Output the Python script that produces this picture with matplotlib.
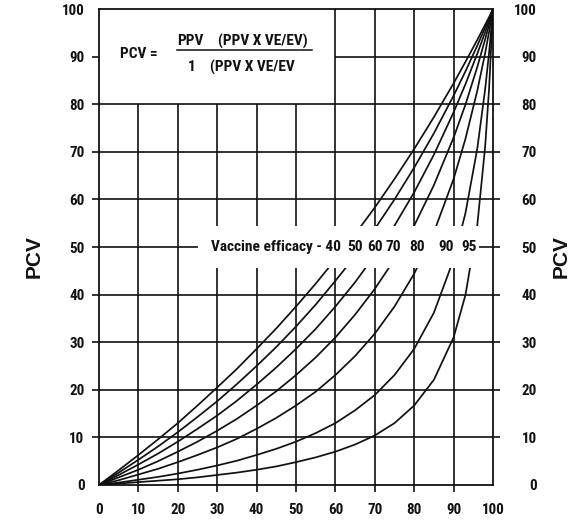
from pathlib import Path

import matplotlib

matplotlib.use("Agg")
import matplotlib.pyplot as plt
from matplotlib import font_manager
from matplotlib.font_manager import FontProperties
from matplotlib.patches import Rectangle

# PPV (%) along the bottom, PCV (%)
ppv = [0, 5, 10, 15, 20, 25, 30, 35, 40, 45, 50, 55, 60, 65, 70, 75, 80, 85, 90, 93, 96, 98, 99, 100]
pcv_ve40 = [0, 3.1, 6.3, 9.6, 13.0, 16.7, 20.5, 24.4, 28.6, 32.9, 37.5, 42.3, 47.4, 52.7, 58.3, 64.3, 70.6, 77.3, 84.4, 88.9, 93.5, 96.7, 98.3, 100]
pcv_ve50 = [0, 2.6, 5.3, 8.1, 11.1, 14.3, 17.6, 21.2, 25.0, 29.0, 33.3, 37.9, 42.9, 48.1, 53.8, 60.0, 66.7, 73.9, 81.8, 86.9, 92.3, 96.1, 98.0, 100]
pcv_ve60 = [0, 2.1, 4.3, 6.6, 9.1, 11.8, 14.6, 17.7, 21.1, 24.7, 28.6, 32.8, 37.5, 42.6, 48.3, 54.5, 61.5, 69.4, 78.3, 84.2, 90.6, 95.1, 97.5, 100]
pcv_ve70 = [0, 1.6, 3.2, 5.0, 7.0, 9.1, 11.4, 13.9, 16.7, 19.7, 23.1, 26.8, 31.0, 35.8, 41.2, 47.4, 54.5, 63.0, 73.0, 79.9, 87.8, 93.6, 96.7, 100]
pcv_ve80 = [0, 1.0, 2.2, 3.4, 4.8, 6.3, 7.9, 9.7, 11.8, 14.1, 16.7, 19.6, 23.1, 27.1, 31.8, 37.5, 44.4, 53.1, 64.3, 72.7, 82.8, 90.7, 95.2, 100]
pcv_ve90 = [0, 0.5, 1.1, 1.7, 2.4, 3.2, 4.1, 5.1, 6.3, 7.6, 9.1, 10.9, 13.0, 15.7, 18.9, 23.1, 28.6, 36.2, 47.4, 57.1, 70.6, 83.1, 90.8, 100]
pcv_ve95 = [0, 0.3, 0.6, 0.9, 1.2, 1.6, 2.1, 2.6, 3.2, 3.9, 4.8, 5.8, 7.0, 8.5, 10.4, 13.0, 16.7, 22.1, 31.0, 39.9, 54.5, 71.0, 83.2, 100]
efficacy_labels = ["40", "50", "60", "70", "80", "90", "95"]
tick_values = [0, 10, 20, 30, 40, 50, 60, 70, 80, 90, 100]

curves = [pcv_ve40, pcv_ve50, pcv_ve60, pcv_ve70, pcv_ve80, pcv_ve90, pcv_ve95]
label_x = [60.4, 65.0, 70.1, 74.6, 80.7, 88.1, 93.9]


def _narrow_font():
    # the scan uses an Arial Narrow style face; take the closest condensed bold file
    wanted = [
        ("liberationsansnarrow-bold.ttf", 1.0),
        ("robotocondensed-bold.ttf", 0.9),
        ("dejavusanscondensed-bold.ttf", 0.78),
    ]
    files = {Path(f.fname).name.lower(): f.fname for f in font_manager.fontManager.ttflist}
    for name, factor in wanted:
        if name in files:
            return files[name], factor
    for key, fname in files.items():
        if ("narrow" in key or "condensed" in key) and "bold" in key and "italic" not in key and "oblique" not in key:
            return fname, 0.85
    return None, 0.7


narrow_file, size_factor = _narrow_font()


def narrow(size):
    if narrow_file:
        return FontProperties(fname=narrow_file, size=size * size_factor)
    return FontProperties(family="DejaVu Sans", weight="bold", size=size * size_factor)


ink = "#111111"

fig = plt.figure(figsize=(5.71, 5.23), dpi=100)
ax = fig.add_axes([0.1734, 0.0727, 0.690, 0.910])
ax.set_xlim(0, 100)
ax.set_ylim(0, 100)

# grid: no lines inside the formula box (x < 60, y > 80)
grid_x = tick_values[1:-1]
ax.vlines(grid_x, 0, [80 if x < 60 else 100 for x in grid_x], color=ink, lw=1.2, zorder=1)
grid_y = tick_values[1:-1]
ax.hlines(grid_y, [60 if y > 80 else 0 for y in grid_y], 100, color=ink, lw=1.2, zorder=1)

for values in curves:
    ax.plot(ppv, values, color=ink, lw=1.25, zorder=2, solid_capstyle="round")

# white band behind the efficacy labels
ax.add_patch(Rectangle((25, 45.5), 71.5, 9, facecolor="white", edgecolor="none", zorder=3))
ax.text(label_x[0] + 1.0, 50, "Vaccine efficacy - " + efficacy_labels[0], ha="right", va="center",
        fontproperties=narrow(12.3), color=ink, zorder=4)
for xpos, lab in zip(label_x[1:], efficacy_labels[1:]):
    ax.text(xpos, 50, lab, ha="center", va="center", fontproperties=narrow(12.3), color=ink, zorder=4)

# formula box text
fkw = dict(fontproperties=narrow(12.3), color=ink, va="center", ha="left", zorder=4)
ax.text(5.3, 90.6, "PCV =", **fkw)
ax.text(19.8, 93.2, "PPV", **fkw)
ax.text(30.2, 93.2, "(PPV X VE/EV)", **fkw)
ax.plot([19.8, 54.0], [91.3, 91.3], color=ink, lw=1.1, zorder=4)
ax.text(22.6, 87.8, "1", **fkw)
ax.text(28.2, 87.8, "(PPV X VE/EV", **fkw)

for spine in ax.spines.values():
    spine.set_linewidth(1.3)
    spine.set_color(ink)

ax.set_xticks(tick_values)
ax.set_yticks(tick_values)
ax.set_xticklabels([str(v) for v in tick_values])
ax.set_yticklabels([str(v) for v in tick_values])
ax.tick_params(axis="x", direction="out", length=5, width=1.2, color=ink, pad=8, labelcolor=ink)
ax.tick_params(axis="y", direction="out", length=5, width=1.2, color=ink, pad=5.5, labelcolor=ink)

ax2 = ax.twinx()
ax2.set_ylim(0, 100)
ax2.set_yticks(tick_values)
ax2.set_yticklabels([str(v) for v in tick_values])
ax2.tick_params(axis="y", direction="out", length=5, width=1.2, color=ink, pad=26.5, labelcolor=ink)
for spine in ax2.spines.values():
    spine.set_visible(False)

for axis_ticks in (ax.xaxis.get_major_ticks(), ax.yaxis.get_major_ticks(), ax2.yaxis.get_major_ticks()):
    for i in (0, len(axis_ticks) - 1):
        axis_ticks[i].tick1line.set_visible(False)
        axis_ticks[i].tick2line.set_visible(False)

for lab in ax.get_xticklabels() + ax.get_yticklabels() + ax2.get_yticklabels():
    lab.set_fontproperties(narrow(12))
for lab in ax2.get_yticklabels():
    lab.set_ha("right")

wide = FontProperties(family=["Liberation Sans", "DejaVu Sans"], weight="bold", size=15)
fig.text(34 / 571, 1 - 257 / 523, "PCV", rotation=90, ha="center", va="center",
         fontproperties=wide, color=ink)
fig.text(561 / 571, 1 - 257 / 523, "PCV", rotation=90, ha="center", va="center",
         fontproperties=wide, color=ink)

fig.savefig("out.png", dpi=100)
plt.close(fig)
